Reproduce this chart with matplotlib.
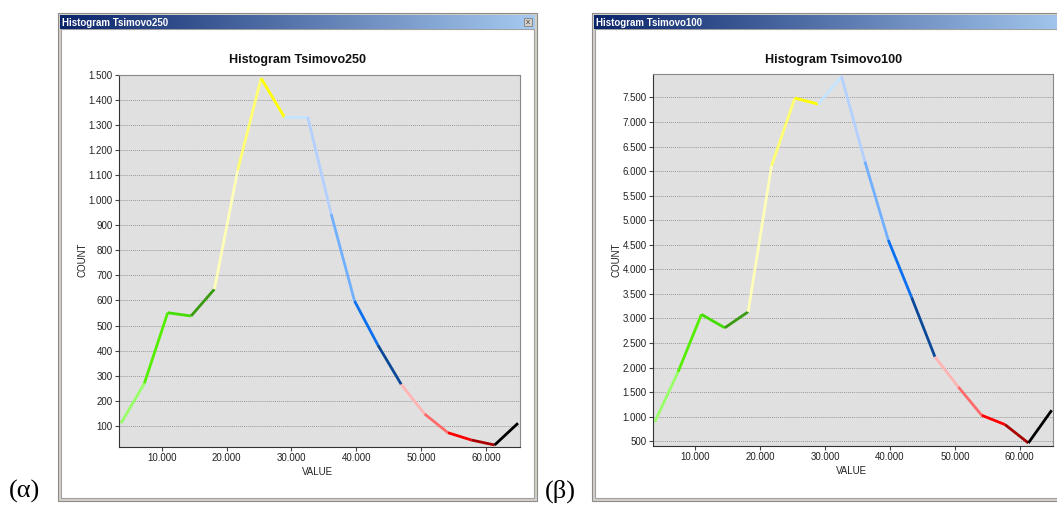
import matplotlib.pyplot as plt
import matplotlib.patches as mpatches
from matplotlib.colors import LinearSegmentedColormap
import numpy as np

W, H = 1057, 509

# bin centres (VALUE) and counts
values = [3730, 7330, 10930, 14530, 18130, 21730, 25330, 28930, 32530,
          36130, 39730, 43330, 46930, 50530, 54130, 57730, 61330, 64930]
count_250 = [110, 269, 551, 538, 645, 1121, 1487, 1331, 1331,
             945, 598, 422, 265, 147, 72, 43, 23, 110]
count_100 = [893, 1913, 3083, 2810, 3136, 6107, 7487, 7364, 7927,
             6194, 4598, 3430, 2219, 1607, 1030, 840, 465, 1132]

# colour of each segment between neighbouring bins
seg_colors = ['#99ff66', '#55ee00', '#44dd00', '#3a9a10', '#ffffb8', '#ffff70',
              '#ffff00', '#c4e4ff', '#b4d0ff', '#70b0ff', '#0a70f0', '#0c4898',
              '#ffb4b4', '#ff6a6a', '#ff0000', '#a80000', '#000000']

yticks_250 = list(range(100, 1600, 100))
yticks_100 = list(range(500, 8000, 500))
xticks = [10000, 20000, 30000, 40000, 50000, 60000]

plt.rcParams['font.family'] = ['Liberation Sans', 'DejaVu Sans']


def px(x0, y0, x1, y1):
    # pixel box -> figure fraction rect
    return [x0 / W, 1 - y1 / H, (x1 - x0) / W, (y1 - y0) / H]


def dots(v):
    return '{:,}'.format(int(v)).replace(',', '.')


fig = plt.figure(figsize=(W / 100, H / 100), dpi=100)
fig.patch.set_facecolor('white')
tb_cmap = LinearSegmentedColormap.from_list('tb', ['#0a246a', '#a6caf0'])


def window(x0, x1, name, close=True):
    # frame
    fig.add_artist(mpatches.Rectangle((x0 / W, 1 - 501 / H), (x1 - x0) / W, (501 - 13) / H,
                                      transform=fig.transFigure, facecolor='#d4d0c8',
                                      edgecolor='#8c8c8c', lw=0.8, zorder=-3))
    fig.add_artist(mpatches.Rectangle(((x0 + 3) / W, 1 - 498 / H), (x1 - x0 - 6) / W, (498 - 29) / H,
                                      transform=fig.transFigure, facecolor='white',
                                      edgecolor='#a0a0a0', lw=0.8, zorder=-2))
    # title bar with gradient
    tb = fig.add_axes(px(x0 + 2, 15, x1 - 2, 29))
    tb.imshow(np.linspace(0, 1, 256)[None, :], aspect='auto', cmap=tb_cmap, extent=(0, 1, 0, 1))
    tb.set_axis_off()
    fig.text((x0 + 4) / W, 1 - 22.5 / H, 'Histogram ' + name, color='white',
             fontsize=7, fontweight='bold', va='center', ha='left')
    if close:
        fig.add_artist(mpatches.Rectangle(((x1 - 13) / W, 1 - 26 / H), 8 / W, 8 / H,
                                          transform=fig.transFigure, facecolor='#d4d0c8',
                                          edgecolor='#808080', lw=0.6, zorder=5))
        fig.text((x1 - 9) / W, 1 - 22 / H, 'x', fontsize=6, ha='center', va='center',
                 color='#404040', zorder=6)

    # chart title
    fig.text((x0 + x1) / 2 / W, 1 - 60 / H, 'Histogram ' + name, fontsize=9,
             fontweight='bold', ha='center', va='center', color='#111111')


def chart(box, xlim, ylim, yticks, counts):
    ax = fig.add_axes(px(*box))
    ax.set_facecolor('#e0e0e0')
    for i in range(len(values) - 1):
        ax.plot(values[i:i + 2], counts[i:i + 2], color=seg_colors[i], lw=2,
                solid_capstyle='butt', solid_joinstyle='miter')
    ax.set_xlim(*xlim)
    ax.set_ylim(*ylim)
    ax.set_yticks(yticks)
    ax.set_yticklabels([dots(v) for v in yticks])
    ax.set_xticks(xticks)
    ax.set_xticklabels([dots(v) for v in xticks])
    ax.yaxis.grid(True, linestyle=(0, (1, 1)), color='#999999', lw=0.7)
    ax.set_axisbelow(True)
    ax.tick_params(direction='out', length=3, width=0.8, color='#444444',
                   labelsize=7, labelcolor='#222222', pad=1.5)
    for s in ['left', 'bottom']:
        ax.spines[s].set_color('#333333')
    for s in ['top', 'right']:
        ax.spines[s].set_color('#888888')
    return ax


window(58, 537, 'Tsimovo250')
chart((119, 75, 520, 447), (3420, 65240), (15, 1500), yticks_250, count_250)
fig.text(82 / W, 1 - 260 / H, 'COUNT', rotation=90, fontsize=7, ha='center', va='center', color='#222222')
fig.text(318 / W, 1 - 472 / H, 'VALUE', fontsize=7, ha='center', va='center', color='#222222')

window(592, 1075, 'Tsimovo100', close=False)
chart((653, 74, 1053, 446), (3460, 65130), (404, 7977), yticks_100, count_100)
fig.text(616 / W, 1 - 260 / H, 'COUNT', rotation=90, fontsize=7, ha='center', va='center', color='#222222')
fig.text(852 / W, 1 - 471 / H, 'VALUE', fontsize=7, ha='center', va='center', color='#222222')

fig.text(9 / W, 1 - 498 / H, '(α)', fontsize=19, family=['Liberation Serif', 'DejaVu Serif'],
         ha='left', va='baseline')
fig.text(545 / W, 1 - 498 / H, '(β)', fontsize=19, family=['Liberation Serif', 'DejaVu Serif'],
         ha='left', va='baseline')

plt.savefig('out.png', dpi=100)
